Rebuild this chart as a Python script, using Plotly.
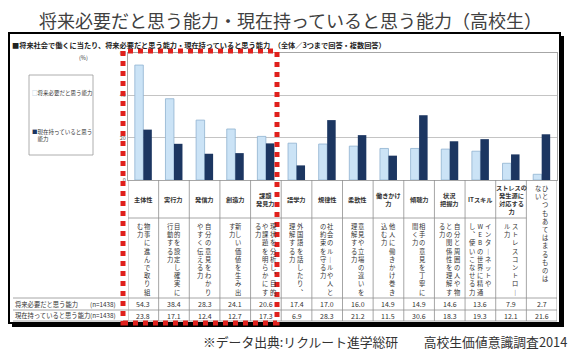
import plotly.graph_objects as go

W, H = 573, 356

# ---------------- data ----------------
categories = ["主体性", "実行力", "発信力", "創造力", "課題発見力", "語学力", "規律性",
              "柔軟性", "働きかけ力", "傾聴力", "状況把握力", "ITスキル",
              "ストレスの発生源に対応する力", "ひとつもあてはまるものはない"]
future_needed = [54.3, 38.4, 28.3, 24.1, 20.6, 17.4, 17.0, 16.0, 14.9, 14.9, 14.6, 13.6, 7.9, 2.7]
current_have = [23.8, 17.1, 12.4, 12.7, 17.3, 6.9, 28.3, 21.2, 11.5, 30.6, 18.3, 19.3, 12.1, 21.6]
header_labels = ["主体性", "実行力", "発信力", "創造力", "課題<br>発見力", "語学力", "規律性",
                 "柔軟性", "働きかけ<br>力", "傾聴力", "状況<br>把握力", "ITスキル",
                 "ストレスの<br>発生源に<br>対応する<br>力", ""]
descriptions = ["物事に進んで取り組|む力",
                "目的を設定し確実に|行動する力",
                "自分の意見をわかり|やすく伝える力",
                "新しい価値を生み出|す力",
                "現状を分析し、目的|や課題を明らかにす|る力",
                "外国語を話したり、|理解する力",
                "社会のルールや人と|の約束を守る力",
                "意見や立場の違いを|理解する力",
                "他人に働きかけ巻き|込む力",
                "相手の意見を丁寧に|聞く力",
                "自分と周囲の人や物|との関係性を理解す|る力",
                "インターネットや|WEBの世界に精通|し、使いこなせる力",
                "ストレスコントロー|ル力",
                "ひとつもあてはまるものは|ない"]
series_names = ["将来必要だと思う能力", "現在持っていると思う能力"]
n_label = "(n=1438)"
yticks = [0, 20, 40, 60]
title_text = "将来必要だと思う能力・現在持っていると思う能力（高校生）"
subtitle_text = "■将来社会で働くに当たり、将来必要だと思う能力・現在持っていると思う能力　（全体／3つまで回答・複数回答）"
source_text = "※データ出典:リクルート進学総研　　高校生価値意識調査2014"

# ---------------- helpers ----------------
def px(x):
    return x / W


def py(y):
    return 1 - y / H


FONT = "Noto Sans CJK JP"
LIGHT = "#cbe3f6"
LIGHT_LINE = "#8fb3d0"
DARK = "#1c3661"
GRID = "#c4c4c4"
TLINE = "#8f8f8f"


def note(x, y, text, size, color="#333333", xanchor="center", yanchor="middle",
         xref="paper", weight="normal", align="center", xshift=0):
    return dict(xref=xref, yref="paper", x=x, y=y, text=text, showarrow=False,
                xanchor=xanchor, yanchor=yanchor, align=align, xshift=xshift,
                borderpad=0, font=dict(size=size, color=color, weight=weight))


fig = go.Figure()
fig.add_bar(x=categories, y=future_needed, name=series_names[0],
            marker=dict(color=LIGHT, line=dict(color=LIGHT_LINE, width=0.8)))
fig.add_bar(x=categories, y=current_have, name=series_names[1],
            marker=dict(color=DARK, line=dict(width=0)))

fig.update_layout(
    width=W, height=H, autosize=False,
    margin=dict(l=0, r=0, t=0, b=0, pad=0),
    paper_bgcolor="white", plot_bgcolor="white",
    barmode="group", bargap=0.445, bargroupgap=0,
    showlegend=False,
    font=dict(family=FONT, color="#333333"),
)
fig.update_xaxes(domain=[px(128), px(557)], range=[-0.5, len(categories) - 0.5],
                 showticklabels=False, ticks="", showgrid=False, automargin=False,
                 showline=True, linecolor="#a6a6a6", linewidth=1, mirror=True)
fig.update_yaxes(domain=[py(180), py(53)], range=[0, 60], tickvals=yticks,
                 tickfont=dict(size=5.5, color="#555555"), ticks="", automargin=False,
                 showgrid=True, gridcolor=GRID, gridwidth=1, zeroline=False,
                 showline=True, linecolor="#a6a6a6", linewidth=1, mirror=True)

shapes = []
annotations = []
n = len(categories)

# table lines
for i in range(n + 1):
    shapes.append(dict(type="line", xref="x", yref="paper", x0=i - 0.5, x1=i - 0.5,
                       y0=py(180), y1=py(321), line=dict(color=TLINE, width=0.8)))
shapes.append(dict(type="line", xref="x", yref="paper", x0=-0.5, x1=n - 1.5,
                   y0=py(218), y1=py(218), line=dict(color=TLINE, width=0.8)))
for yy in (298, 310, 321):
    shapes.append(dict(type="line", xref="paper", yref="paper", x0=px(13), x1=px(557),
                       y0=py(yy), y1=py(yy), line=dict(color=TLINE, width=0.8)))

# header labels, vertical descriptions, values
VMAP = {"ー": "｜", "、": "︑"}
for i in range(n):
    if header_labels[i]:
        annotations.append(note(i, py(199), header_labels[i], 6.2, xref="x", weight="bold"))
        top = 221
    else:
        top = 183
    cols = descriptions[i].split("|")
    k = len(cols)
    for j, c in enumerate(cols):
        txt = "<br>".join(VMAP.get(ch, ch) for ch in c)
        annotations.append(note(i, py(top), txt, 6.3, xref="x", yanchor="top",
                                xshift=((k - 1) / 2 - j) * 7.4))
    annotations.append(note(i, py(304), f"{future_needed[i]:.1f}", 7, xref="x"))
    annotations.append(note(i, py(315.5), f"{current_have[i]:.1f}", 7, xref="x"))

# row labels
for r, yy in enumerate((304, 315.5)):
    annotations.append(note(px(14), py(yy), series_names[r], 6.3, xanchor="left"))
    annotations.append(note(px(89), py(yy), n_label, 6.3, xanchor="left"))

# legend box
shapes.append(dict(type="rect", xref="paper", yref="paper", x0=px(29), x1=px(93),
                   y0=py(155), y1=py(75), line=dict(color="#9a9a9a", width=0.8)))
annotations.append(note(px(31), py(93),
                        f"<span style='color:{LIGHT_LINE}'>□</span>{series_names[0]}",
                        5.5, xanchor="left"))
annotations.append(note(px(31), py(135.5),
                        f"<span style='color:{DARK}'>■</span>現在持っていると思う<br>　能力",
                        5.5, xanchor="left", align="left"))
annotations.append(note(px(83), py(58), "(%)", 5.5))

# titles
annotations.append(note(px(290), py(20), title_text, 18, color="#404040"))
annotations.append(note(px(11), py(44.5), subtitle_text, 7.2, color="#222222",
                        xanchor="left", weight="bold"))
annotations.append(note(px(568), py(341), source_text, 12.8, xanchor="right"))

# outer frame with shadow
shapes.append(dict(type="rect", xref="paper", yref="paper", x0=px(9), x1=px(560),
                   y0=py(323), y1=py(33), line=dict(color="black", width=2)))
shapes.append(dict(type="rect", xref="paper", yref="paper", x0=px(560), x1=px(564),
                   y0=py(327), y1=py(36), fillcolor="black", line=dict(width=0)))
shapes.append(dict(type="rect", xref="paper", yref="paper", x0=px(12), x1=px(564),
                   y0=py(327), y1=py(323), fillcolor="black", line=dict(width=0)))

# red dashed highlight
shapes.append(dict(type="rect", xref="paper", yref="paper", x0=px(123), x1=px(277),
                   y0=py(323), y1=py(51), layer="above",
                   line=dict(color="#e0201c", width=5, dash="dot")))

fig.update_layout(shapes=shapes, annotations=annotations)
fig.write_html("out.html", config={"displayModeBar": False},
               post_script="document.body.style.margin='0';")
